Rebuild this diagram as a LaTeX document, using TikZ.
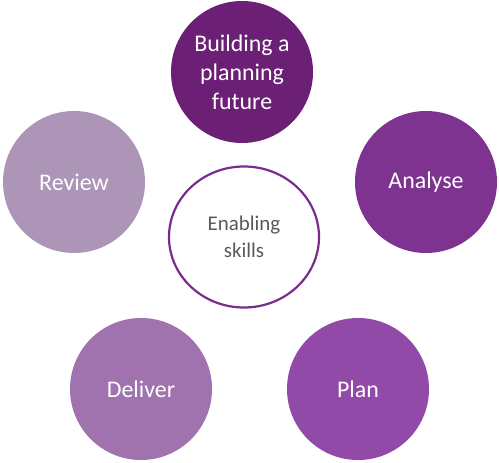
\documentclass[tikz,border=0pt]{standalone}
\usepackage{fontspec}
\setmainfont{Carlito}
\usepackage{tikz}
\usetikzlibrary{shapes.geometric}

\definecolor{buildcol}{HTML}{6B2076}
\definecolor{analysecol}{HTML}{7E3390}
\definecolor{plancol}{HTML}{914AA7}
\definecolor{delivercol}{HTML}{A073AF}
\definecolor{reviewcol}{HTML}{AD95B8}
\definecolor{ringcol}{HTML}{7A2C8E}
\definecolor{skilltext}{HTML}{595959}

\begin{document}
\begin{tikzpicture}[x=1bp, y=-1bp,
	stage/.style={circle, minimum size=142bp, inner sep=0pt, text=white,
		align=center, font=\fontsize{24}{29}\selectfont}]
	\useasboundingbox (0,0) rectangle (499,463);

	\node[stage, fill=buildcol] (build) at (242,72) {Building a\\planning\\future};
	\node[stage, fill=analysecol] (analyse) at (426,182) {Analyse};
	\node[stage, fill=plancol] (plan) at (358,389) {Plan};
	\node[stage, fill=delivercol] (deliver) at (141,389) {Deliver};
	\node[stage, fill=reviewcol] (review) at (74,182) {Review};

	\node[ellipse, draw=ringcol, line width=2.2bp, fill=white,
		minimum width=150bp, minimum height=141bp, inner sep=0pt,
		align=center, text=skilltext, font=\fontsize{21}{27}\selectfont]
		(skills) at (244,237) {Enabling\\skills};
\end{tikzpicture}
\end{document}
